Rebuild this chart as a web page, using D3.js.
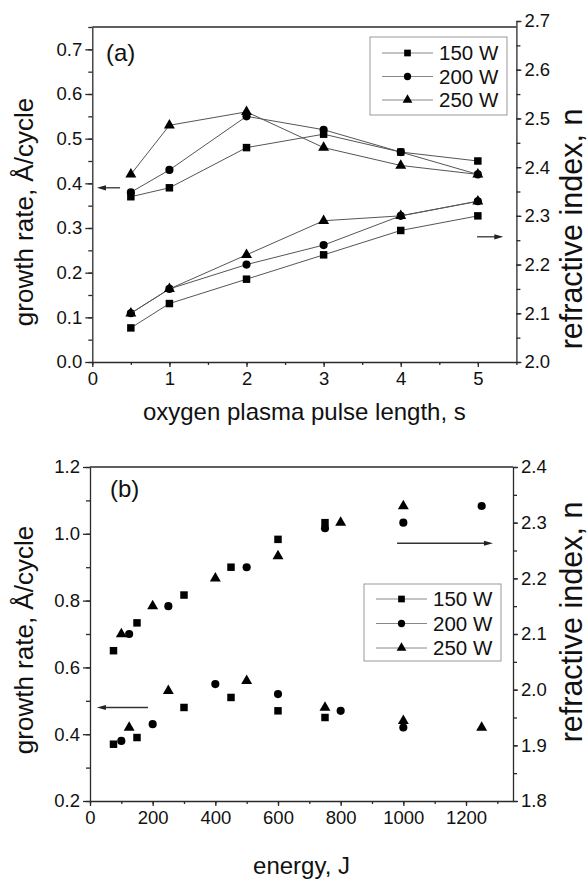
<!DOCTYPE html>
<html>
<head>
  <meta charset="utf-8">
  <title>Growth rate and refractive index</title>
  <script src="https://d3js.org/d3.v7.min.js"></script>
  <style>
    body { margin: 0; background: #fff; }
    svg { display: block; font-family: "Liberation Sans", Arial, sans-serif; }
    .axis path, .axis line { stroke: #2a2a2a; stroke-width: 1.3; }
    .axis text { fill: #111; font-size: 18.5px; font-family: "Liberation Sans", Arial, sans-serif; }
  </style>
</head>
<body>
  <div id="chart"></div>
  <script>
    // data
    const powers = ["150 W", "200 W", "250 W"];
    const symbols = [d3.symbolSquare, d3.symbolCircle, d3.symbolTriangle];
    const symbolSizes = [56, 52, 52];

    const pulse = [0.5, 1, 2, 3, 4, 5];
    const growth150 = [0.37, 0.39, 0.48, 0.51, 0.47, 0.45];
    const growth200 = [0.38, 0.43, 0.55, 0.52, 0.47, 0.42];
    const growth250 = [0.42, 0.53, 0.56, 0.48, 0.44, 0.42];
    const index150 = [2.07, 2.12, 2.17, 2.22, 2.27, 2.30];
    const index200 = [2.10, 2.15, 2.20, 2.24, 2.30, 2.33];
    const index250 = [2.10, 2.15, 2.22, 2.29, 2.30, 2.33];

    const energy150 = [75, 150, 300, 450, 600, 750];
    const energy200 = [100, 200, 400, 600, 800, 1000];
    const energy250 = [125, 250, 500, 750, 1000, 1250];

    // in panel (b) the index markers of 200 W and 250 W are swapped, as printed
    const indexMarkerA = [0, 1, 2];
    const indexMarkerB = [0, 2, 1];

    const pulseTicks = [0, 1, 2, 3, 4, 5];
    const energyTicks = [0, 200, 400, 600, 800, 1000, 1200];
    const growthTicksA = [0, 0.1, 0.2, 0.3, 0.4, 0.5, 0.6, 0.7];
    const indexTicksA = [2.0, 2.1, 2.2, 2.3, 2.4, 2.5, 2.6, 2.7];
    const growthTicksB = [0.2, 0.4, 0.6, 0.8, 1.0, 1.2];
    const indexTicksB = [1.8, 1.9, 2.0, 2.1, 2.2, 2.3, 2.4];

    const growth = [growth150, growth200, growth250];
    const index = [index150, index200, index250];
    const energy = [energy150, energy200, energy250];

    const width = 587, height = 879;
    const svg = d3.select("#chart").append("svg")
      .attr("width", width)
      .attr("height", height);

    function range(a, b, step) {
      const out = [];
      for (let v = a; v <= b + 1e-9; v += step) out.push(+v.toFixed(4));
      return out;
    }

    function drawPanel(p) {
      const g = svg.append("g");
      const x = d3.scaleLinear().domain(p.xDomain).range([p.left, p.right]);
      const yL = d3.scaleLinear().domain(p.yLDomain).range([p.bottom, p.top]);
      const yR = d3.scaleLinear().domain(p.yRDomain).range([p.bottom, p.rTop]);

      // minor ticks
      g.append("g").attr("class", "axis")
        .attr("transform", `translate(0,${p.bottom})`)
        .call(d3.axisBottom(x).tickValues(range(p.xDomain[0], p.xDomain[1], p.xMinor)).tickSize(3).tickFormat(""))
        .call(s => s.select(".domain").remove());
      g.append("g").attr("class", "axis")
        .attr("transform", `translate(${p.left},0)`)
        .call(d3.axisLeft(yL).tickValues(range(p.yLDomain[0], p.yLDomain[1], p.yLMinor)).tickSize(4).tickFormat(""))
        .call(s => s.select(".domain").remove());
      g.append("g").attr("class", "axis")
        .attr("transform", `translate(${p.right},0)`)
        .call(d3.axisRight(yR).tickValues(range(p.yRDomain[0], p.yRDomain[1], 0.05)).tickSize(4).tickFormat(""))
        .call(s => s.select(".domain").remove());

      // major axes
      g.append("g").attr("class", "axis")
        .attr("transform", `translate(0,${p.bottom})`)
        .call(d3.axisBottom(x).tickValues(p.xTicks).tickSize(5).tickPadding(5).tickSizeOuter(0).tickFormat(d3.format("d")));
      g.append("g").attr("class", "axis")
        .attr("transform", `translate(${p.left},0)`)
        .call(d3.axisLeft(yL).tickValues(p.yLTicks).tickSize(7).tickPadding(3).tickSizeOuter(0).tickFormat(d3.format(".1f")));
      g.append("g").attr("class", "axis")
        .attr("transform", `translate(${p.right},0)`)
        .call(d3.axisRight(yR).tickValues(p.yRTicks).tickSize(5).tickPadding(3).tickSizeOuter(0).tickFormat(d3.format(".1f")));

      // top frame
      g.append("line")
        .attr("x1", p.left).attr("x2", p.right)
        .attr("y1", p.top).attr("y2", p.top)
        .attr("stroke", "#2a2a2a").attr("stroke-width", 1.3);

      // series
      for (let i = 0; i < 3; i++) {
        const xs = p.xs[i];
        const gr = growth[i].map((v, j) => [x(xs[j]), yL(v)]);
        const ri = index[i].map((v, j) => [x(xs[j]), yR(v)]);
        if (p.lines) {
          [gr, ri].forEach(pts => {
            g.append("path")
              .attr("d", d3.line()(pts))
              .attr("fill", "none")
              .attr("stroke", "#555")
              .attr("stroke-width", 1);
          });
        }
        g.selectAll(null).data(gr).enter().append("path")
          .attr("transform", d => `translate(${d[0]},${d[1]})`)
          .attr("d", d3.symbol().type(symbols[i]).size(symbolSizes[i]))
          .attr("fill", "#000");
        const k = p.indexMarker[i];
        g.selectAll(null).data(ri).enter().append("path")
          .attr("transform", d => `translate(${d[0]},${d[1]})`)
          .attr("d", d3.symbol().type(symbols[k]).size(symbolSizes[k]))
          .attr("fill", "#000");
      }

      // arrows
      p.arrows.forEach(a => {
        const y = a.axis === "L" ? yL(a.y) : yR(a.y);
        const x1 = x(a.from), x2 = x(a.to);
        const dir = Math.sign(x2 - x1);
        g.append("line")
          .attr("x1", x1).attr("x2", x2 - dir * 6)
          .attr("y1", y).attr("y2", y)
          .attr("stroke", "#333").attr("stroke-width", 1.3);
        g.append("path")
          .attr("d", `M${x2},${y} L${x2 - dir * 9},${y - 2.6} L${x2 - dir * 9},${y + 2.6} Z`)
          .attr("fill", "#222");
      });

      // legend
      const lg = g.append("g");
      lg.append("rect")
        .attr("x", p.legend.x).attr("y", p.legend.y)
        .attr("width", 137).attr("height", p.legend.h)
        .attr("fill", "#fff").attr("stroke", "#999").attr("stroke-width", 1);
      powers.forEach((name, i) => {
        const ly = p.legend.y + p.legend.first + i * p.legend.step;
        const lx = p.legend.x + 12;
        lg.append("line")
          .attr("x1", lx).attr("x2", lx + 51)
          .attr("y1", ly).attr("y2", ly)
          .attr("stroke", "#888").attr("stroke-width", 1);
        lg.append("path")
          .attr("transform", `translate(${lx + 25.5},${ly})`)
          .attr("d", d3.symbol().type(symbols[i]).size(symbolSizes[i] * 0.8))
          .attr("fill", "#000");
        lg.append("text")
          .attr("x", lx + 57).attr("y", ly + 7)
          .attr("font-size", 20.5)
          .attr("fill", "#111")
          .text(name);
      });

      // panel label
      g.append("text")
        .attr("x", p.tag.x).attr("y", p.tag.y)
        .attr("font-size", 24).attr("fill", "#111")
        .text(p.tag.text);

      // axis titles
      g.append("text")
        .attr("x", (p.left + p.right) / 2).attr("y", p.xTitleY)
        .attr("text-anchor", "middle")
        .attr("font-size", 24).attr("fill", "#111")
        .text(p.xTitle);
      g.append("text")
        .attr("transform", `translate(33,${p.yLTitleC}) rotate(-90)`)
        .attr("text-anchor", "middle")
        .attr("font-size", 26).attr("fill", "#111")
        .text("growth rate, Å/cycle");
      g.append("text")
        .attr("transform", `translate(582,${p.yRTitleC}) rotate(-90)`)
        .attr("text-anchor", "middle")
        .attr("font-size", 30.5).attr("fill", "#111")
        .text("refractive index, n");
    }

    drawPanel({
      left: 92.3, right: 516.4, top: 27, bottom: 362, rTop: 21,
      xDomain: [0, 5.5], xTicks: pulseTicks, xMinor: 0.5,
      yLDomain: [0, 0.75], yLTicks: growthTicksA, yLMinor: 0.05,
      yRDomain: [2.0, 2.7], yRTicks: indexTicksA,
      xs: [pulse, pulse, pulse], lines: true, indexMarker: indexMarkerA,
      arrows: [
        { axis: "L", y: 0.39, from: 0.36, to: 0.06 },
        { axis: "R", y: 2.257, from: 4.99, to: 5.33 }
      ],
      legend: { x: 370, y: 37, h: 78, first: 16, step: 23.5 },
      tag: { text: "(a)", x: 106, y: 61 },
      xTitle: "oxygen plasma pulse length, s", xTitleY: 420,
      yLTitleC: 212, yRTitleC: 229
    });

    drawPanel({
      left: 90, right: 513, top: 467, bottom: 801, rTop: 467,
      xDomain: [0, 1350], xTicks: energyTicks, xMinor: 100,
      yLDomain: [0.2, 1.2], yLTicks: growthTicksB, yLMinor: 0.1,
      yRDomain: [1.8, 2.4], yRTicks: indexTicksB,
      xs: energy, lines: false, indexMarker: indexMarkerB,
      arrows: [
        { axis: "L", y: 0.48, from: 185, to: 22 },
        { axis: "R", y: 2.263, from: 980, to: 1286 }
      ],
      legend: { x: 364, y: 584, h: 77, first: 15, step: 24.5 },
      tag: { text: "(b)", x: 110, y: 497 },
      xTitle: "energy, J", xTitleY: 874,
      yLTitleC: 640, yRTitleC: 622
    });
  </script>
</body>
</html>
